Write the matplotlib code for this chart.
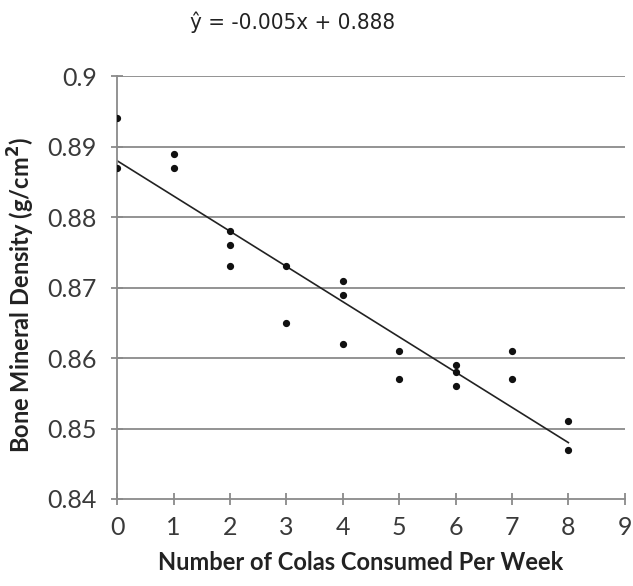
import matplotlib
matplotlib.use("Agg")
import matplotlib.pyplot as plt

# colas per week vs bone mineral density
colas = [0, 0, 1, 1, 2, 2, 2, 3, 3, 4, 4, 4, 5, 5, 6, 6, 6, 7, 7, 8, 8]
density = [0.894, 0.887, 0.889, 0.887, 0.878, 0.876, 0.873, 0.873, 0.865,
           0.871, 0.869, 0.862, 0.861, 0.857, 0.859, 0.858, 0.856, 0.861,
           0.857, 0.851, 0.847]

slope = -0.005
intercept = 0.888
fit_x = [0, 8]
fit_y = [intercept + slope * x for x in fit_x]

x_ticks = list(range(0, 10))
y_ticks = [0.84, 0.85, 0.86, 0.87, 0.88, 0.89, 0.9]
y_labels = ["0.84", "0.85", "0.86", "0.87", "0.88", "0.89", "0.9"]

fig = plt.figure(figsize=(6.33, 5.86), dpi=100)
ax = fig.add_axes([0.185, 0.1485, 0.802, 0.7215])

grey = "#8a8a8a"
for y in y_ticks[1:]:
    ax.axhline(y, color=grey, lw=1.3, zorder=1)

ax.plot(fit_x, fit_y, color="#222222", lw=1.2, zorder=2)
ax.plot(colas, density, "o", color="#111111", ms=4.2, zorder=3)

ax.set_xlim(0, 9)
ax.set_ylim(0.84, 0.9)
ax.set_xticks(x_ticks)
ax.set_yticks(y_ticks)
ax.set_yticklabels(y_labels)

for side in ["top", "right"]:
    ax.spines[side].set_visible(False)
for side in ["left", "bottom"]:
    ax.spines[side].set_color(grey)
    ax.spines[side].set_linewidth(1.3)

ax.tick_params(direction="inout", length=9, width=1.3, color=grey,
               labelsize=18, labelcolor="#3a3a3a")
ax.tick_params(axis="y", pad=10)
ax.tick_params(axis="x", pad=8)
for lab in ax.get_xticklabels() + ax.get_yticklabels():
    lab.set_family(["Lato", "DejaVu Sans"])

ax.set_xlabel("Number of Colas Consumed Per Week", fontsize=17,
              fontweight="bold", family=["Lato", "DejaVu Sans"],
              color="#222222")
ax.set_ylabel("Bone Mineral Density (g/cm$^\\mathbf{2}$)", fontsize=17,
              fontweight="bold", family=["Lato", "DejaVu Sans"],
              color="#222222")
ax.xaxis.set_label_coords(0.48, -0.151)
ax.yaxis.set_label_coords(-0.188, 0.482)
ax.xaxis.label.set_va("center")
ax.yaxis.label.set_va("center")

fig.text(0.462, 0.962, "\u0177 = -0.005x + 0.888", ha="center", va="center",
         fontsize=16, family="DejaVu Sans", stretch="condensed",
         color="#222222")

fig.savefig("out.png", dpi=100)
